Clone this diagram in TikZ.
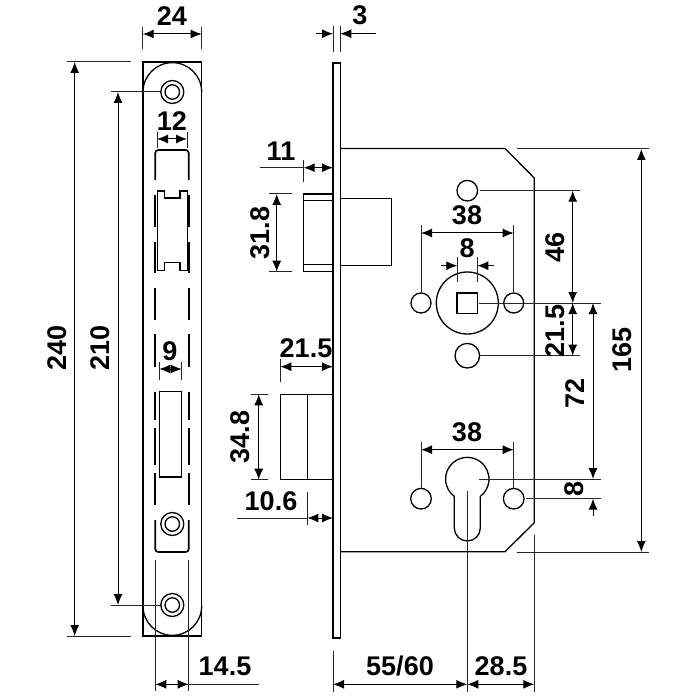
\documentclass[tikz,border=0pt]{standalone}
\usepackage{fontspec}
\setmainfont{Liberation Sans}
\usetikzlibrary{arrows.meta}

\begin{document}
\begin{tikzpicture}[x=1pt, y=-1pt,
    outline/.style={draw=black, line width=1.3pt},
    slotline/.style={draw=black, line width=1.7pt},
    extline/.style={draw=black!85, line width=1pt},
    dimline/.style={draw=black, line width=1pt, {Latex[length=11pt,width=9pt]}-{Latex[length=11pt,width=9pt]}},
    tipend/.style={draw=black, line width=1pt, -{Latex[length=11pt,width=9pt]}},
    dimlabel/.style={font=\fontsize{27}{27}\selectfont\bfseries, inner sep=0pt},
    hole/.style={circle, draw=black, line width=1.3pt, fill=white, inner sep=0pt}
]
\useasboundingbox (0,0) rectangle (700,700);

% strike plate
\draw[outline] (143,62) rectangle (201.7,636);
\draw[outline] (143,92) arc[start angle=180, end angle=0, radius=29.35pt];
\draw[outline] (143,606) arc[start angle=180, end angle=360, radius=29.35pt];
\foreach \name/\ypos in {plateTop/92, plateMid/524, plateBot/605} {
    \node[hole, minimum size=23pt] (\name) at (172.3,\ypos) {};
    \node[hole, minimum size=14.5pt] at (\name) {};
}
\draw[slotline, rounded corners=3pt] (155.3,180) -- (155.3,150) -- (188.7,150) -- (188.7,180);
\foreach \xpos in {155.3, 188.7} {
    \foreach \ya/\yb in {195/227, 242/273, 288/320, 334/367, 392/420, 428/465, 473/505}
        \draw[slotline] (\xpos,\ya) -- (\xpos,\yb);
    \draw[extline] (\xpos,560) -- (\xpos,691);
}
\draw[slotline, rounded corners=3pt] (155.3,520) -- (155.3,552) -- (188.7,552) -- (188.7,520);
\draw[outline] (157.7,191) -- (164.7,191) -- (164.7,198) -- (180,198) -- (180,191) -- (187.7,191)
    -- (187.7,270.7) -- (180,270.7) -- (180,262.7) -- (164.7,262.7) -- (164.7,270.7) -- (157.7,270.7) -- cycle;
\draw[outline] (159.3,391.7) rectangle (181.7,477);

% strike plate dimensions
\draw[extline] (142.7,27) -- (142.7,49);
\draw[extline] (201.7,27) -- (201.7,49);
\draw[dimline] (142.7,34) -- (201.7,34);
\node[dimlabel] (dimA) at (172,16) {24};

\draw[extline] (67,62) -- (130.7,62);
\draw[extline] (67,636) -- (130.7,636);
\draw[dimline] (74.7,62) -- (74.7,636);
\node[dimlabel, rotate=90] (dimB) at (57,348) {240};

\draw[extline] (110.7,92) -- (plateTop.west);
\draw[extline] (110.7,605) -- (plateBot.west);
\draw[dimline] (118,92) -- (118,605);
\node[dimlabel, rotate=90] (dimC) at (100,348) {210};

\draw[extline] (157,132) -- (157,148);
\draw[extline] (187,132) -- (187,148);
\draw[dimline] (157,139) -- (187,139);
\node[dimlabel] (dimD) at (172,121) {12};

\draw[extline] (159.3,362) -- (159.3,380);
\draw[extline] (181.7,362) -- (181.7,380);
\draw[dimline] (159.3,369) -- (181.7,369);
\node[dimlabel] (dimE) at (170,351) {9};

\draw[dimline] (155.3,684.3) -- (188.7,684.3);
\draw[extline] (188.7,684.3) -- (259,684.3);
\node[dimlabel] (dimF) at (225,666) {14.5};

% lock case
\draw[outline] (333,63) rectangle (340.3,638);
\draw[outline] (340.3,148.5) -- (505,148.5) -- (534.3,178) -- (534.3,522.7) -- (505,551.7) -- (340.3,551.7);
\draw[outline] (303.7,194) rectangle (333,271.7);
\draw[outline] (303.7,200.7) -- (333,200.7);
\draw[outline] (303.7,264.7) -- (333,264.7);
\draw[outline] (340.3,198.3) -- (391.3,198.3) -- (391.3,265.7) -- (340.3,265.7);
\draw[outline] (280.3,394.3) rectangle (333,479.7);
\draw[outline] (307.3,394.3) -- (307.3,479.7);

% holes and keyhole
\node[hole, minimum size=20.6pt] (topHole) at (467.3,190.7) {};
\node[hole, minimum size=62pt] (hubRing) at (467.3,303) {};
\node[hole, minimum size=20pt] (hubLeft) at (421,303) {};
\node[hole, minimum size=20pt] (hubRight) at (513.7,303) {};
\node[hole, minimum size=24.6pt] (lowHole) at (467.3,355.7) {};
\node[hole, minimum size=20.6pt] (cylLeft) at (421,498.7) {};
\node[hole, minimum size=20.6pt] (cylRight) at (513.7,498.7) {};
\draw[outline] (457,293) rectangle (477.7,313.3);
\draw[outline] (454.3,496.4) arc[start angle=233.2, end angle=-53.2, radius=21.7pt]
    -- (480.3,528) arc[start angle=0, end angle=-180, radius=13pt] -- cycle;

% lock case dimensions
\draw[extline] (333,26) -- (333,52);
\draw[extline] (340.3,26) -- (340.3,52);
\draw[tipend] (316,33.7) -- (333,33.7);
\draw[tipend] (376,33.7) -- (340.3,33.7);
\node[dimlabel] (dimG) at (360,15) {3};

\draw[extline] (303.7,160) -- (303.7,182);
\draw[extline] (260,167.7) -- (303.7,167.7);
\draw[dimline] (303.7,167.7) -- (333,167.7);
\node[dimlabel] (dimH) at (281,151) {11};

\draw[extline] (269,194) -- (292,194);
\draw[extline] (269,271.7) -- (292,271.7);
\draw[dimline] (276.7,194) -- (276.7,271.7);
\node[dimlabel, rotate=90] (dimI) at (260,233) {31.8};

\draw[extline] (280.3,359) -- (280.3,382);
\draw[dimline] (280.3,366.7) -- (333,366.7);
\node[dimlabel] (dimJ) at (306,348) {21.5};

\draw[extline] (250.7,394.3) -- (268,394.3);
\draw[extline] (250.7,479.7) -- (268,479.7);
\draw[dimline] (258.7,394.3) -- (258.7,479.7);
\node[dimlabel, rotate=90] (dimK) at (240,437) {34.8};

\draw[extline] (307.3,491.7) -- (307.3,525);
\draw[extline] (237,518) -- (307.3,518);
\draw[dimline] (307.3,518) -- (333,518);
\node[dimlabel] (dimL) at (271,501) {10.6};

\draw[extline] (hubLeft.north) -- (421,225);
\draw[extline] (hubRight.north) -- (513.7,225);
\draw[dimline] (421,233) -- (513.7,233);
\node[dimlabel] (dimM) at (467,215) {38};

\draw[extline] (457.3,257) -- (457.3,281.7);
\draw[extline] (477.3,257) -- (477.3,281.7);
\draw[tipend] (440.7,265.7) -- (457.3,265.7);
\draw[tipend] (494,265.7) -- (477.3,265.7);
\node[dimlabel] (dimN) at (467,248) {8};

\draw[extline] (480,190.7) -- (580,190.7);
\draw[extline] (479,303) -- (601,303);
\draw[extline] (480,355.7) -- (580,355.7);
\draw[dimline] (572.7,190.7) -- (572.7,303);
\draw[dimline] (572.7,303) -- (572.7,355.7);
\node[dimlabel, rotate=90] (dimO) at (555,247) {46};
\node[dimlabel, rotate=90] (dimP) at (555,331) {21.5};

\draw[extline] (479.3,479) -- (601,479);
\draw[extline] (526,498.7) -- (601,498.7);
\draw[dimline] (593,303) -- (593,479);
\draw[tipend] (593,516) -- (593,498.7);
\node[dimlabel, rotate=90] (dimQ) at (575,393) {72};
\node[dimlabel, rotate=90] (dimR) at (574,489) {8};

\draw[extline] (516.7,149) -- (648.7,149);
\draw[extline] (516.7,552) -- (648.7,552);
\draw[dimline] (641.3,149) -- (641.3,552);
\node[dimlabel, rotate=90] (dimS) at (622,350) {165};

\draw[extline] (cylLeft.north) -- (421,441.7);
\draw[extline] (cylRight.north) -- (513.7,441.7);
\draw[dimline] (421,449.7) -- (513.7,449.7);
\node[dimlabel] (dimT) at (467,432) {38};

\draw[extline] (333,650.7) -- (333,691.7);
\draw[extline] (467.3,490.7) -- (467.3,691.7);
\draw[extline] (534.3,535) -- (534.3,691.7);
\draw[dimline] (333,684.3) -- (467.3,684.3);
\draw[dimline] (467.3,684.3) -- (534.3,684.3);
\node[dimlabel] (dimU) at (400,666) {55/60};
\node[dimlabel] (dimV) at (501,666) {28.5};
\end{tikzpicture}
\end{document}
